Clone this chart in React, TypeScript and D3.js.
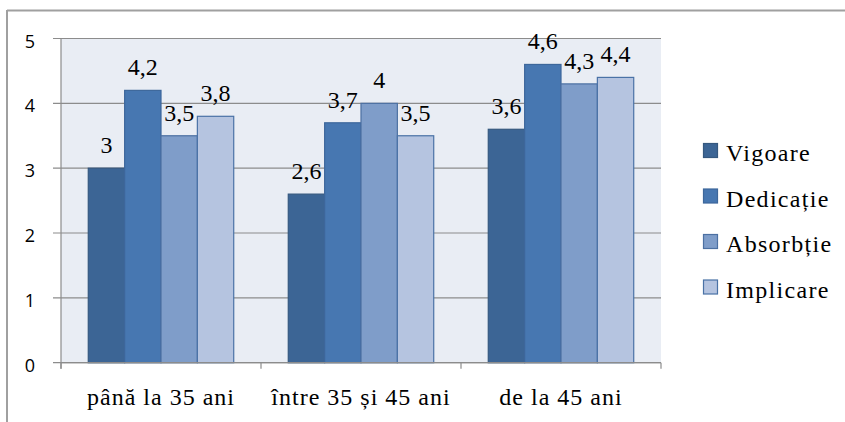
import React from "react";
import * as d3 from "d3";

const categories = ["până la 35 ani", "între 35 și 45 ani", "de la 45 ani"];
const seriesNames = ["Vigoare", "Dedicație", "Absorbție", "Implicare"];
const vigoare = [3, 2.6, 3.6];
const dedicatie = [4.2, 3.7, 4.6];
const absorbtie = [3.5, 4, 4.3];
const implicare = [3.8, 3.5, 4.4];
const yTicks = [0, 1, 2, 3, 4, 5];

const seriesValues = [vigoare, dedicatie, absorbtie, implicare];
const fills = ["#3C6595", "#4777B1", "#7F9DC9", "#B5C4E0"];
const strokes = ["#35587F", "#3D679B", "#4C70A2", "#4A72A6"];

const W = 845;
const H = 422;
const plot = { left: 61, right: 661, top: 38.5, bottom: 362.7 };

const fmt = (v: number) => String(v).replace(".", ",");

const css = `
.tser { font-family: "Liberation Serif"; }
.tsan { font-family: "Open Sans"; }
`;

export default function App() {
  const x = d3.scaleBand<string>().domain(categories).range([plot.left, plot.right]).padding(0);
  const xs = d3
    .scaleBand<string>()
    .domain(seriesNames)
    .range([0, x.bandwidth()])
    .paddingInner(0)
    .paddingOuter(0.75);
  const y = d3.scaleLinear().domain([0, 5]).range([plot.bottom, plot.top]);

  const xTickPos = [...categories.map((c) => x(c)!), plot.right];

  return (
    <svg width={W} height={H} style={{ display: "block", position: "absolute", left: 0, top: 0, background: "#fff" }}>
      <style>{css}</style>
      <line x1={7} y1={10.5} x2={W} y2={10.5} stroke="#A0A0A0" strokeWidth={2} />
      <line x1={7} y1={10} x2={7} y2={H} stroke="#A0A0A0" strokeWidth={2} />

      <rect x={plot.left} y={plot.top} width={plot.right - plot.left} height={plot.bottom - plot.top} fill="#E9EDF4" />

      {yTicks.map((t) => (
        <line key={"g" + t} x1={plot.left - 8} x2={plot.right} y1={y(t)} y2={y(t)} stroke="#8C8C8C" strokeWidth={1.2} />
      ))}

      {yTicks.map((t) => (
        <text key={"yl" + t} className="tsan" x={35} y={y(t) + 9} textAnchor="end" fontSize={18} fill="#000">
          {t}
        </text>
      ))}

      {categories.map((c, ci) =>
        seriesNames.map((s, si) => {
          const v = seriesValues[si][ci];
          const bx = x(c)! + xs(s)!;
          return (
            <g key={c + s}>
              <rect
                x={bx}
                y={y(v)}
                width={xs.bandwidth()}
                height={y(0) - y(v)}
                fill={fills[si]}
                stroke={strokes[si]}
                strokeWidth={1.2}
              />
              <text className="tser" x={bx + xs.bandwidth() / 2} y={y(v) - 15} textAnchor="middle" fontSize={24} fill="#000">
                {fmt(v)}
              </text>
            </g>
          );
        })
      )}

      <line x1={plot.left} x2={plot.left} y1={plot.top} y2={plot.bottom + 6} stroke="#8C8C8C" strokeWidth={1.2} />
      <line x1={plot.left} x2={plot.right} y1={plot.bottom} y2={plot.bottom} stroke="#8C8C8C" strokeWidth={1.2} />
      {xTickPos.map((p, i) => (
        <line key={"xt" + i} x1={p} x2={p} y1={plot.bottom} y2={plot.bottom + 6} stroke="#8C8C8C" strokeWidth={1.2} />
      ))}

      {categories.map((c) => (
        <text
          key={"cl" + c}
          className="tser"
          x={x(c)! + x.bandwidth() / 2}
          y={405}
          textAnchor="middle"
          fontSize={24}
          letterSpacing={1}
          fill="#000"
        >
          {c}
        </text>
      ))}

      {seriesNames.map((s, i) => {
        const top = 143.5 + i * 45.5;
        return (
          <g key={"lg" + s}>
            <rect x={703.5} y={top} width={14} height={14} fill={fills[i]} stroke={strokes[i]} strokeWidth={1.2} />
            <text className="tser" x={726} y={top + 17.5} fontSize={24} letterSpacing={1.3} fill="#000">
              {s}
            </text>
          </g>
        );
      })}
    </svg>
  );
}
